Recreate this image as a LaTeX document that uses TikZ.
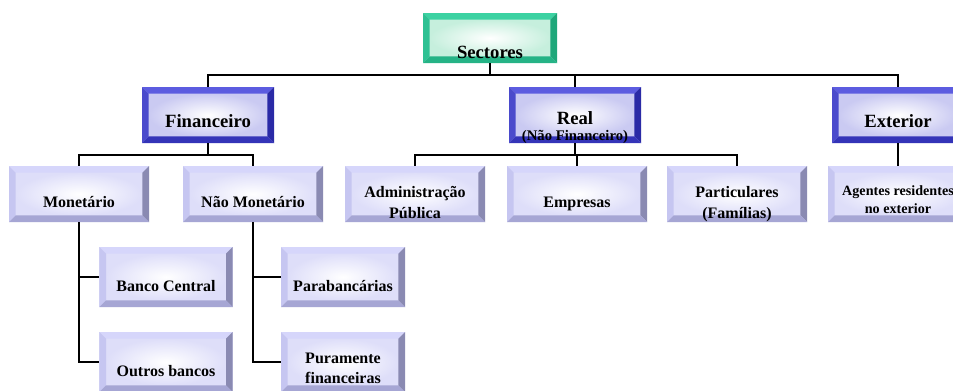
\documentclass[tikz,border=0pt]{standalone}
\usepackage{fontspec}
\setmainfont{Liberation Serif}
\usepackage{xcolor}
\usetikzlibrary{calc}

\definecolor{grnTop}{HTML}{3CD2A2}
\definecolor{grnLeft}{HTML}{2EC193}
\definecolor{grnRight}{HTML}{1FA77A}
\definecolor{grnBot}{HTML}{25B386}
\definecolor{grnIn}{HTML}{C6EFDD}
\definecolor{bluTop}{HTML}{5C5CE0}
\definecolor{bluLeft}{HTML}{4A4ACC}
\definecolor{bluRight}{HTML}{2A2AA6}
\definecolor{bluBot}{HTML}{3434B8}
\definecolor{bluIn}{HTML}{CACAF2}
\definecolor{lavTop}{HTML}{D6D6FB}
\definecolor{lavLeft}{HTML}{C6C6F1}
\definecolor{lavRight}{HTML}{8A8AB2}
\definecolor{lavBot}{HTML}{A6A6D4}
\definecolor{lavIn}{HTML}{DEDEF9}

\def\bw{5pt}

\tikzset{
  bevel/.style n args={5}{fill=#5, inner sep=0pt, align=center,
    path picture={
      \coordinate (bsw) at (path picture bounding box.south west);
      \coordinate (bne) at (path picture bounding box.north east);
      \coordinate (bnw) at (bsw |- bne);
      \coordinate (bse) at (bne |- bsw);
      \shade[inner color=white, outer color=#5]
        ([shift={(\bw,\bw)}]bsw) rectangle ([shift={(-\bw,-\bw)}]bne);
      \fill[#1] (bnw) -- (bne) -- ([shift={(-\bw,-\bw)}]bne) -- ([shift={(\bw,-\bw)}]bnw) -- cycle;
      \fill[#2] (bnw) -- (bsw) -- ([shift={(\bw,\bw)}]bsw) -- ([shift={(\bw,-\bw)}]bnw) -- cycle;
      \fill[#3] (bne) -- (bse) -- ([shift={(-\bw,\bw)}]bse) -- ([shift={(-\bw,-\bw)}]bne) -- cycle;
      \fill[#4] (bsw) -- (bse) -- ([shift={(-\bw,\bw)}]bse) -- ([shift={(\bw,\bw)}]bsw) -- cycle;
    }},
  grnbox/.style={bevel={grnTop}{grnLeft}{grnRight}{grnBot}{grnIn}},
  blubox/.style={bevel={bluTop}{bluLeft}{bluRight}{bluBot}{bluIn}},
  lavbox/.style={bevel={lavTop}{lavLeft}{lavRight}{lavBot}{lavIn}},
  lvl0/.style={grnbox, minimum width=100.5pt, text height=33.75pt, text depth=3.75pt,
    font=\fontsize{14}{17}\selectfont\bfseries},
  lvl1/.style={blubox, minimum width=99pt, text height=30pt, text depth=12pt,
    font=\fontsize{14}{17}\selectfont\bfseries},
  lvl2/.style={lavbox, minimum width=105pt, text height=30.75pt, text depth=11.25pt,
    font=\fontsize{12}{15.5}\selectfont\bfseries},
  lvl3/.style={lavbox, minimum width=100pt, text height=33pt, text depth=12pt,
    font=\fontsize{12}{15}\selectfont\bfseries},
  conn/.style={line width=1.2pt, black}
}

\begin{document}
\begin{tikzpicture}[x=0.75pt, y=-0.75pt]
    \useasboundingbox (0,0) rectangle (953,390);
    \clip (0,0) rectangle (953,390);
    \fill[white] (0,0) rectangle (953,390);

    % top
    \node[lvl0] (sect) at (490,38) {Sectores};

    % sectors
    \node[lvl1] (fin) at (208,115) {Financeiro};
    \node[lvl1, text height=39.75pt, text depth=2.25pt] (real) at (575,115)
        {Real\\[-5pt]{\fontsize{11}{11}\selectfont (Não Financeiro)}};
    \node[lvl1] (ext) at (898,115) {Exterior};

    % second level
    \node[lvl2] (mon) at (79,194) {Monetário};
    \node[lvl2] (nmon) at (253,194) {Não Monetário};
    \node[lvl2, text height=39pt, text depth=3pt] (adm) at (415,194) {Administração\\Pública};
    \node[lvl2] (emp) at (577,194) {Empresas};
    \node[lvl2, text height=39pt, text depth=3pt] (part) at (737,194) {Particulares\\(Famílias)};
    \node[lvl2, text height=35.25pt, text depth=6.75pt,
          font=\fontsize{10.6}{13.5}\selectfont\bfseries] (agt) at (898,194)
        {Agentes residentes\\no exterior};

    % third level
    \node[lvl3] (banco) at (166,277) {Banco Central};
    \node[lvl3] (outros) at (166,362) {Outros bancos};
    \node[lvl3, minimum width=93pt] (para) at (343,277) {Parabancárias};
    \node[lvl3, minimum width=93pt, text height=38.25pt, text depth=6.75pt] (pura) at (343,362)
        {Puramente\\financeiras};

    % connectors
    \coordinate (bus0) at (0,75);
    \coordinate (bus1) at (0,155);
    \draw[conn] (sect.south) -- (sect.south |- bus0);
    \draw[conn] (fin.north) -- (fin.north |- bus0) -- (ext.north |- bus0) -- (ext.north);
    \draw[conn] (real.north) -- (real.north |- bus0);
    \draw[conn] (fin.south) -- (fin.south |- bus1);
    \draw[conn] (mon.north) -- (mon.north |- bus1) -- (nmon.north |- bus1) -- (nmon.north);
    \draw[conn] (real.south) -- (real.south |- bus1);
    \draw[conn] (adm.north) -- (adm.north |- bus1) -- (part.north |- bus1) -- (part.north);
    \draw[conn] (emp.north) -- (emp.north |- bus1);
    \draw[conn] (ext.south) -- (agt.north);
    \draw[conn] (mon.south) |- (outros.west);
    \draw[conn] (mon.south |- banco.west) -- (banco.west);
    \draw[conn] (nmon.south) |- (pura.west);
    \draw[conn] (nmon.south |- para.west) -- (para.west);
\end{tikzpicture}
\end{document}
